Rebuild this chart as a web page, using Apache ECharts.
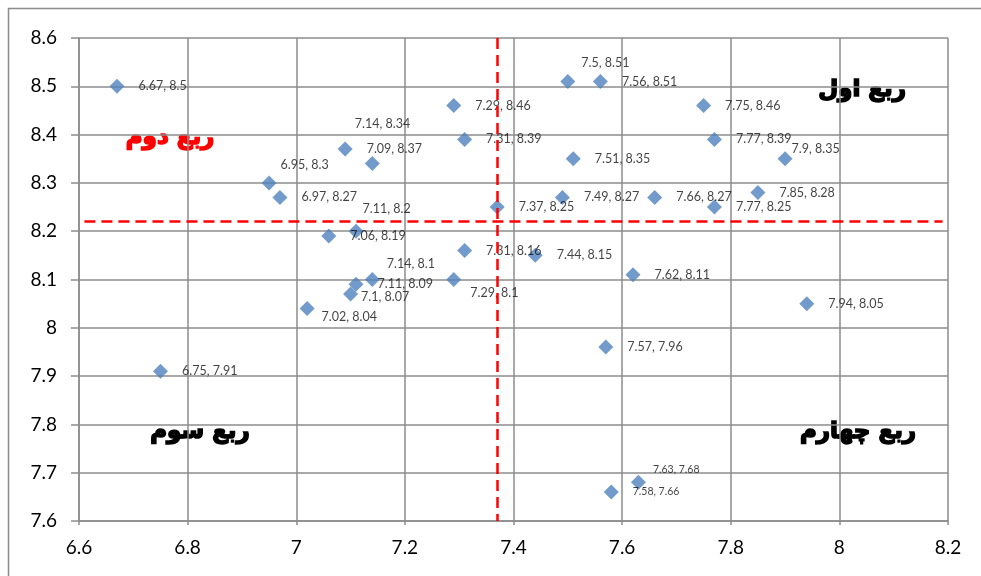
<!DOCTYPE html>
<html>
<head>
<meta charset="utf-8">
<script src="https://cdn.jsdelivr.net/npm/echarts@6/dist/echarts.min.js"></script>
<style>
html,body{margin:0;padding:0;background:#fff;}
#chart{width:981px;height:576px;}
</style>
</head>
<body>
<div id="chart"></div>
<script>
// ---- data ----
const xValues = [6.67, 7.5, 7.56, 7.29, 7.75, 7.09, 7.14, 7.31, 7.77, 7.51, 7.9, 6.95, 6.97, 7.49, 7.66, 7.85, 7.37, 7.77, 7.11, 7.06, 7.31, 7.44, 7.14, 7.11, 7.1, 7.29, 7.62, 7.02, 7.94, 6.75, 7.57, 7.63, 7.58];
const yValues = [8.5, 8.51, 8.51, 8.46, 8.46, 8.37, 8.34, 8.39, 8.39, 8.35, 8.35, 8.3, 8.27, 8.27, 8.27, 8.28, 8.25, 8.25, 8.2, 8.19, 8.16, 8.15, 8.1, 8.09, 8.07, 8.1, 8.11, 8.04, 8.05, 7.91, 7.96, 7.68, 7.66];
const meanX = 7.37;
const meanY = 8.22;
const xTicks = {min: 6.6, max: 8.2, interval: 0.2};
const yTicks = {min: 7.6, max: 8.6, interval: 0.1};
const quadrantNames = ['ربع اول', 'ربع دوم', 'ربع سوم', 'ربع چهارم'];

// ---- label placement tweaks (style, by point index) ----
const labelNudge = {1: [-8, -19], 6: [-39, -40], 10: [-15, -10], 11: [-10, -18], 18: [-15, -22],
  22: [-7, -16], 24: [-11, 3], 25: [-5, 13], 27: [-7, 8], 31: [-7, -13]};
const smallLabels = {31: true, 32: true};

const points = xValues.map((x, i) => {
  const item = {value: [x, yValues[i]]};
  const lab = {};
  if (labelNudge[i]) lab.offset = labelNudge[i];
  if (smallLabels[i]) lab.fontSize = 10.5;
  if (Object.keys(lab).length) item.label = lab;
  return item;
});

const gridColor = '#8c8c8c';
const font = 'Lato';
const qFont = 'bold 23px "DejaVu Sans"';

function quadText(i, x, y, color) {
  return {type: 'text', silent: true, style: {x: x, y: y, text: quadrantNames[i], font: qFont,
    fill: color, stroke: color, lineWidth: 1.6, align: 'center', verticalAlign: 'middle'}};
}

const chart = echarts.init(document.getElementById('chart'), null, {renderer: 'canvas'});
chart.setOption({
  animation: false,
  backgroundColor: '#fff',
  grid: {left: 79, right: 33, top: 38, bottom: 55, containLabel: false},
  xAxis: {
    type: 'value', min: xTicks.min, max: xTicks.max, interval: xTicks.interval,
    axisLine: {show: true, onZero: false, lineStyle: {color: gridColor, width: 1.5}},
    axisTick: {show: true, length: 4, lineStyle: {color: gridColor, width: 1.5}},
    splitLine: {show: true, lineStyle: {color: gridColor, width: 1.5}},
    axisLabel: {color: '#000', fontSize: 19, fontFamily: font, margin: 17}
  },
  yAxis: {
    type: 'value', min: yTicks.min, max: yTicks.max, interval: yTicks.interval,
    axisLine: {show: true, onZero: false, lineStyle: {color: gridColor, width: 1.5}},
    axisTick: {show: true, length: 8, lineStyle: {color: gridColor, width: 1.5}},
    splitLine: {show: true, lineStyle: {color: gridColor, width: 1.5}},
    axisLabel: {color: '#000', fontSize: 19, fontFamily: font, margin: 22}
  },
  series: [{
    type: 'scatter',
    symbol: 'diamond',
    symbolSize: 15,
    itemStyle: {color: '#4f81bd'},
    data: points,
    label: {
      show: true, position: 'right', distance: 14,
      color: '#111', fontSize: 12.5, fontFamily: font,
      formatter: p => p.value[0] + ', ' + p.value[1]
    },
    markLine: {
      silent: true, symbol: ['none', 'none'], animation: false,
      label: {show: false},
      lineStyle: {color: '#ff0000', type: [11, 6], width: 2.5},
      data: [
        [{coord: [meanX, yTicks.max]}, {coord: [meanX, yTicks.min]}],
        [{coord: [6.61, meanY]}, {coord: [8.19, meanY]}]
      ]
    }
  }],
  graphic: [
    {type: 'rect', silent: true, shape: {x: 8.5, y: 8.5, width: 1200, height: 800}, style: {fill: 'none', stroke: gridColor, lineWidth: 1.5}},
    quadText(0, 862, 90, '#000'),
    quadText(1, 170, 138, '#ff0000'),
    quadText(2, 200, 432, '#000'),
    quadText(3, 858, 432, '#000')
  ]
});
</script>
</body>
</html>
